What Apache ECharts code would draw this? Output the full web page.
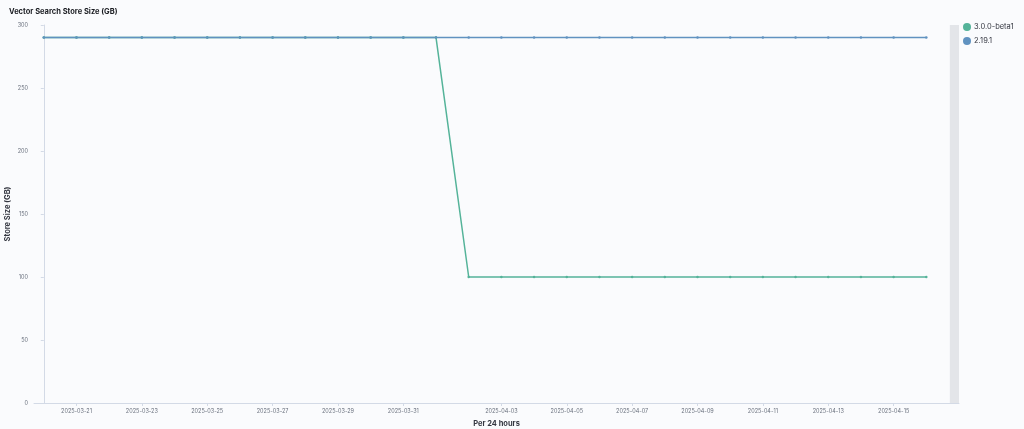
<!DOCTYPE html>
<html>
<head>
<meta charset="utf-8">
<script src="https://cdn.jsdelivr.net/npm/echarts@6/dist/echarts.min.js"></script>
<style>
  html, body { margin: 0; padding: 0; background: #fafbfd; }
  #main { width: 1024px; height: 429px; }
</style>
</head>
<body>
<div id="main"></div>
<script>
// one point per day, 2025-03-20 .. 2025-04-16
var days = ['2025-03-20', '2025-03-21', '2025-03-22', '2025-03-23', '2025-03-24', '2025-03-25', '2025-03-26',
  '2025-03-27', '2025-03-28', '2025-03-29', '2025-03-30', '2025-03-31', '2025-04-01', '2025-04-02',
  '2025-04-03', '2025-04-04', '2025-04-05', '2025-04-06', '2025-04-07', '2025-04-08', '2025-04-09',
  '2025-04-10', '2025-04-11', '2025-04-12', '2025-04-13', '2025-04-14', '2025-04-15', '2025-04-16']
var beta1 = [290, 290, 290, 290, 290, 290, 290, 290, 290, 290, 290, 290, 290, 100,
  100, 100, 100, 100, 100, 100, 100, 100, 100, 100, 100, 100, 100, 100]
var v2191 = [290, 290, 290, 290, 290, 290, 290, 290, 290, 290, 290, 290, 290, 290,
  290, 290, 290, 290, 290, 290, 290, 290, 290, 290, 290, 290, 290, 290]
// labelled dates (every 2nd day)
var tickDays = ['2025-03-21', '2025-03-23', '2025-03-25', '2025-03-27', '2025-03-29', '2025-03-31',
  '2025-04-03', '2025-04-05', '2025-04-07', '2025-04-09', '2025-04-11', '2025-04-13', '2025-04-15']

function pairs(arr) {
  return arr.map(function (v, i) { return [i, v] })
}

var myChart = echarts.init(document.getElementById('main'))
var txt = '#69707d'
var axisCol = '#d3dae6'
var tickIdx = tickDays.map(function (d) { return days.indexOf(d) })
var option = {
  backgroundColor: '#fafbfd',
  textStyle: { fontFamily: 'Inter' },
  title: {
    text: 'Vector Search Store Size (GB)',
    left: 4,
    top: 3,
    textStyle: { fontSize: 7.5, fontWeight: 'bold', color: '#1a1c21', fontFamily: 'Inter' }
  },
  legend: {
    orient: 'vertical',
    left: 963,
    top: 23,
    width: 60,
    icon: 'circle',
    itemWidth: 8,
    itemHeight: 8,
    itemGap: 6,
    padding: 0,
    textStyle: { fontSize: 7.5, color: '#343741', padding: [0, 0, 0, -2] },
    data: ['3.0.0-beta1', '2.19.1']
  },
  grid: { left: 34, right: 65, top: 25, bottom: 26, outerBoundsMode: 'none', containLabel: false },
  xAxis: {
    type: 'value',
    min: -0.3,
    max: 28,
    name: 'Per 24 hours',
    nameLocation: 'middle',
    nameGap: 17,
    nameMoveOverlap: false,
    nameTextStyle: { fontSize: 7.5, fontWeight: 'bold', color: '#343741' },
    splitLine: { show: false },
    axisLine: { show: true, lineStyle: { color: axisCol } },
    axisTick: { show: true, length: 3, lineStyle: { color: axisCol }, customValues: tickIdx },
    axisLabel: {
      fontSize: 5.5, color: txt, margin: 5,
      customValues: tickIdx,
      formatter: function (v) { return days[Math.round(v)] }
    }
  },
  yAxis: {
    type: 'value',
    min: 0,
    max: 300,
    interval: 50,
    name: 'Store Size (GB)',
    nameLocation: 'middle',
    nameGap: 22,
    nameMoveOverlap: false,
    nameTextStyle: { fontSize: 7.5, fontWeight: 'bold', color: '#343741' },
    splitLine: { show: false },
    axisLine: { show: true, lineStyle: { color: axisCol } },
    axisTick: { show: true, length: 3, lineStyle: { color: axisCol } },
    axisLabel: { fontSize: 5.5, color: txt, margin: 6 }
  },
  series: [{
    name: '3.0.0-beta1',
    type: 'line',
    data: pairs(beta1),
    color: '#54b399',
    symbol: 'circle',
    symbolSize: 2.5,
    lineStyle: { width: 1.5 },
    animation: false,
    markArea: {
      silent: true,
      itemStyle: { color: '#e3e5e9' },
      data: [[{ xAxis: 27.72 }, { xAxis: 28 }]]
    }
  }, {
    name: '2.19.1',
    type: 'line',
    data: pairs(v2191),
    color: '#6092c0',
    symbol: 'circle',
    symbolSize: 2.5,
    lineStyle: { width: 1.5 },
    animation: false
  }]
}
myChart.setOption(option)
</script>
</body>
</html>
